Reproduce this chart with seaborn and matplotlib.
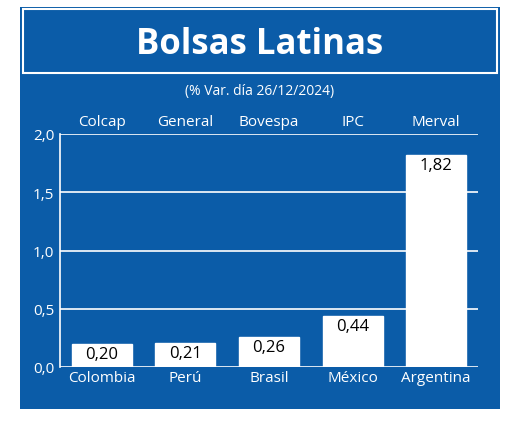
import matplotlib
matplotlib.use("Agg")
import matplotlib.pyplot as plt
import seaborn as sns
import pandas as pd
from matplotlib.patches import Rectangle

countries = ["Colombia", "Perú", "Brasil", "México", "Argentina"]
indices = ["Colcap", "General", "Bovespa", "IPC", "Merval"]
values = [0.20, 0.21, 0.26, 0.44, 1.82]
yticks = [0.0, 0.5, 1.0, 1.5, 2.0]
title = "Bolsas Latinas"
subtitle = "(% Var. día 26/12/2024)"

blue = "#0b5ca8"
sns.set_theme(style="white")
plt.rcParams['font.family'] = ['Open Sans', 'DejaVu Sans']

fig = plt.figure(figsize=(5.2, 4.27), dpi=100)
fig.patch.set_facecolor("white")
fig.patches.append(Rectangle((20/520, 1-410/427), 480/520, 402/427, transform=fig.transFigure,
                             facecolor=blue, edgecolor="none", zorder=-2))
fig.patches.append(Rectangle((23/520, 1-74/427), 474/520, 64/427, transform=fig.transFigure,
                             facecolor="none", edgecolor="white", lw=1.5, zorder=-1))
fig.text(0.5, 1-45/427, title, color="white", fontsize=25, fontweight="bold", ha="center", va="center")
fig.text(0.5, 1-92/427, subtitle, color="white", fontsize=10, ha="center", va="center")

ax = fig.add_axes([60/520, 59/427, 418/520, 233/427])
ax.set_zorder(2)
df = pd.DataFrame({"pais": countries, "v": values})
sns.barplot(data=df, x="pais", y="v", color="white", width=0.72, saturation=1, ax=ax, zorder=3)
ax.set_facecolor(blue)
ax.set_ylim(0, 2.0)
ax.set_xlim(-0.5, 4.5)
ax.set_yticks(yticks)
ax.set_yticklabels([f"{t:.1f}".replace(".", ",") for t in yticks], color="white", fontsize=11)
for t in yticks:
    ax.axhline(t, color="white", lw=1.2, zorder=1)
ax.set_xticks(range(len(countries)))
ax.set_xticklabels(countries, color="white", fontsize=11)
ax.tick_params(axis="x", length=0, pad=2)
ax.tick_params(axis="y", length=0, pad=4)
ax.set_xlabel("")
ax.set_ylabel("")
for s in ["top", "right", "bottom"]:
    ax.spines[s].set_visible(False)
ax.spines["left"].set_color("white")
ax.spines["left"].set_linewidth(1.2)
for i, (v, n) in enumerate(zip(values, indices)):
    ax.text(i, v - 0.02, f"{v:.2f}".replace(".", ","), ha="center", va="top", color="black", fontsize=12, zorder=5)
    ax.text(i, 2.04, n, ha="center", va="bottom", color="white", fontsize=11)
fig.savefig("out.png", dpi=100)
